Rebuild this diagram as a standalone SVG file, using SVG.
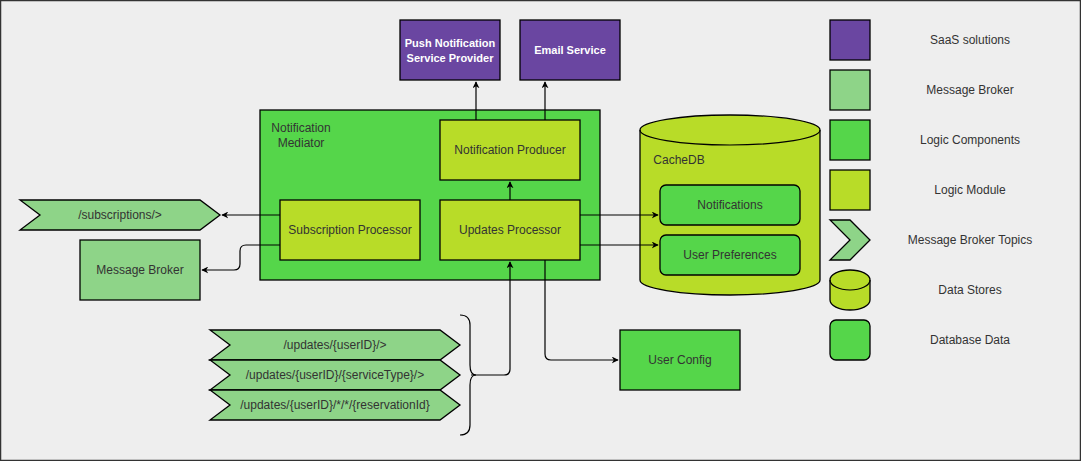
<svg xmlns="http://www.w3.org/2000/svg" width="1081" height="461" viewBox="0 0 1081 461">
<defs>
<marker id="arr" viewBox="0 0 10 10" refX="9" refY="5" markerWidth="7" markerHeight="7" markerUnits="userSpaceOnUse" orient="auto">
<path d="M0,0 L10,5 L0,10 L3,5 Z" fill="#000"/>
</marker>
<style>
text{font-family:"Liberation Sans",Arial,sans-serif;font-size:12px;fill:#333;text-anchor:middle;dominant-baseline:central}
.w{fill:#fff;font-weight:bold;font-size:11px}
.s{stroke:#000;stroke-width:1.3}
.saas{fill:#6a46a1}
.mb{fill:#8ed488}
.lc{fill:#55d64a}
.lm{fill:#b8dc28}
.c{fill:none;stroke:#000;stroke-width:1.2}
</style>
</defs>
<rect x="0.5" y="0.5" width="1080" height="460" fill="#eeeeee" stroke="#333" stroke-width="1.5"/>

<g id="push">
<rect class="saas s" x="400" y="20" width="100" height="60"/>
<text class="w" x="450" y="43">Push Notification</text>
<text class="w" x="450" y="58">Service Provider</text>
</g>
<g id="email">
<rect class="saas s" x="520" y="20" width="100" height="60"/>
<text class="w" x="570" y="50">Email Service</text>
</g>

<g id="mediator">
<rect class="lc s" x="260" y="110" width="340" height="170"/>
<text x="301" y="128">Notification</text>
<text x="301" y="143">Mediator</text>
</g>
<g id="producer">
<rect class="lm s" x="440" y="120" width="140" height="60"/>
<text x="510" y="150">Notification Producer</text>
</g>
<g id="subproc">
<rect class="lm s" x="280" y="200" width="140" height="60"/>
<text x="350" y="230">Subscription Processor</text>
</g>
<g id="updproc">
<rect class="lm s" x="440" y="200" width="140" height="60"/>
<text x="510" y="230">Updates Processor</text>
</g>

<g id="subscriptions">
<path class="mb s" d="M20,200 L200,200 L220,215 L200,230 L20,230 L40,215 Z"/>
<text x="120" y="215">/subscriptions/&gt;</text>
</g>
<g id="broker">
<rect class="mb s" x="80" y="240" width="120" height="60"/>
<text x="140" y="270">Message Broker</text>
</g>

<g id="topic1">
<path class="mb s" d="M210,330 L440,330 L460,345 L440,360 L210,360 L230,345 Z"/>
<text x="335" y="345">/updates/{userID}/&gt;</text>
</g>
<g id="topic2">
<path class="mb s" d="M210,360 L440,360 L460,375 L440,390 L210,390 L230,375 Z"/>
<text x="335" y="375">/updates/{userID}/{serviceType}/&gt;</text>
</g>
<g id="topic3">
<path class="mb s" d="M210,390 L440,390 L460,405 L440,420 L210,420 L230,405 Z"/>
<text x="335" y="405">/updates/{userID}/*/*/{reservationId}</text>
</g>

<g id="cachedb">
<path class="lm s" d="M640,130 A90,15 0 0 1 820,130 L820,280 A90,15 0 0 1 640,280 Z"/>
<path class="c" d="M640,130 A90,15 0 0 0 820,130"/>
<text x="679" y="160">CacheDB</text>
</g>
<g id="notifications">
<rect class="lc s" x="660" y="185" width="140" height="40" rx="6"/>
<text x="730" y="205">Notifications</text>
</g>
<g id="userprefs">
<rect class="lc s" x="660" y="235" width="140" height="40" rx="6"/>
<text x="730" y="255">User Preferences</text>
</g>

<g id="userconfig">
<rect class="lc s" x="620" y="330" width="120" height="60"/>
<text x="680" y="360">User Config</text>
</g>

<g id="legend">
<rect class="saas s" x="830" y="20" width="40" height="40"/>
<text x="970" y="40">SaaS solutions</text>
<rect class="mb s" x="830" y="70" width="40" height="40"/>
<text x="970" y="90">Message Broker</text>
<rect class="lc s" x="830" y="120" width="40" height="40"/>
<text x="970" y="140">Logic Components</text>
<rect class="lm s" x="830" y="170" width="40" height="40"/>
<text x="970" y="190">Logic Module</text>
<path class="mb s" d="M830,220 L850,220 L870,240 L850,260 L830,260 L850,240 Z"/>
<text x="970" y="240">Message Broker Topics</text>
<path class="lm s" d="M830,280 A20,10 0 0 1 870,280 L870,300 A20,10 0 0 1 830,300 Z"/>
<path class="c" d="M830,280 A20,10 0 0 0 870,280"/>
<text x="970" y="290">Data Stores</text>
<rect class="lc s" x="830" y="320" width="40" height="40" rx="6"/>
<text x="970" y="340">Database Data</text>
</g>

<g id="connectors">
<path class="c" d="M476,120 L476,82" marker-end="url(#arr)"/>
<path class="c" d="M545,120 L545,82" marker-end="url(#arr)"/>
<path class="c" d="M510,200 L510,182" marker-end="url(#arr)"/>
<path class="c" d="M280,215 L222,215" marker-end="url(#arr)"/>
<path class="c" d="M280,245 L246,245 Q240,245 240,251 L240,264 Q240,270 234,270 L202,270" marker-end="url(#arr)"/>
<path class="c" d="M580,215 L658,215" marker-end="url(#arr)"/>
<path class="c" d="M580,245 L658,245" marker-end="url(#arr)"/>
<path class="c" d="M545,260 L545,354 Q545,360 551,360 L618,360" marker-end="url(#arr)"/>
<path class="c" d="M471,375 L504,375 Q510,375 510,369 L510,262" marker-end="url(#arr)"/>
<path class="c" d="M460,315 Q470,315 470,325 L470,365 Q470,375 476,375 Q470,375 470,385 L470,425 Q470,435 460,435"/>
</g>
</svg>
